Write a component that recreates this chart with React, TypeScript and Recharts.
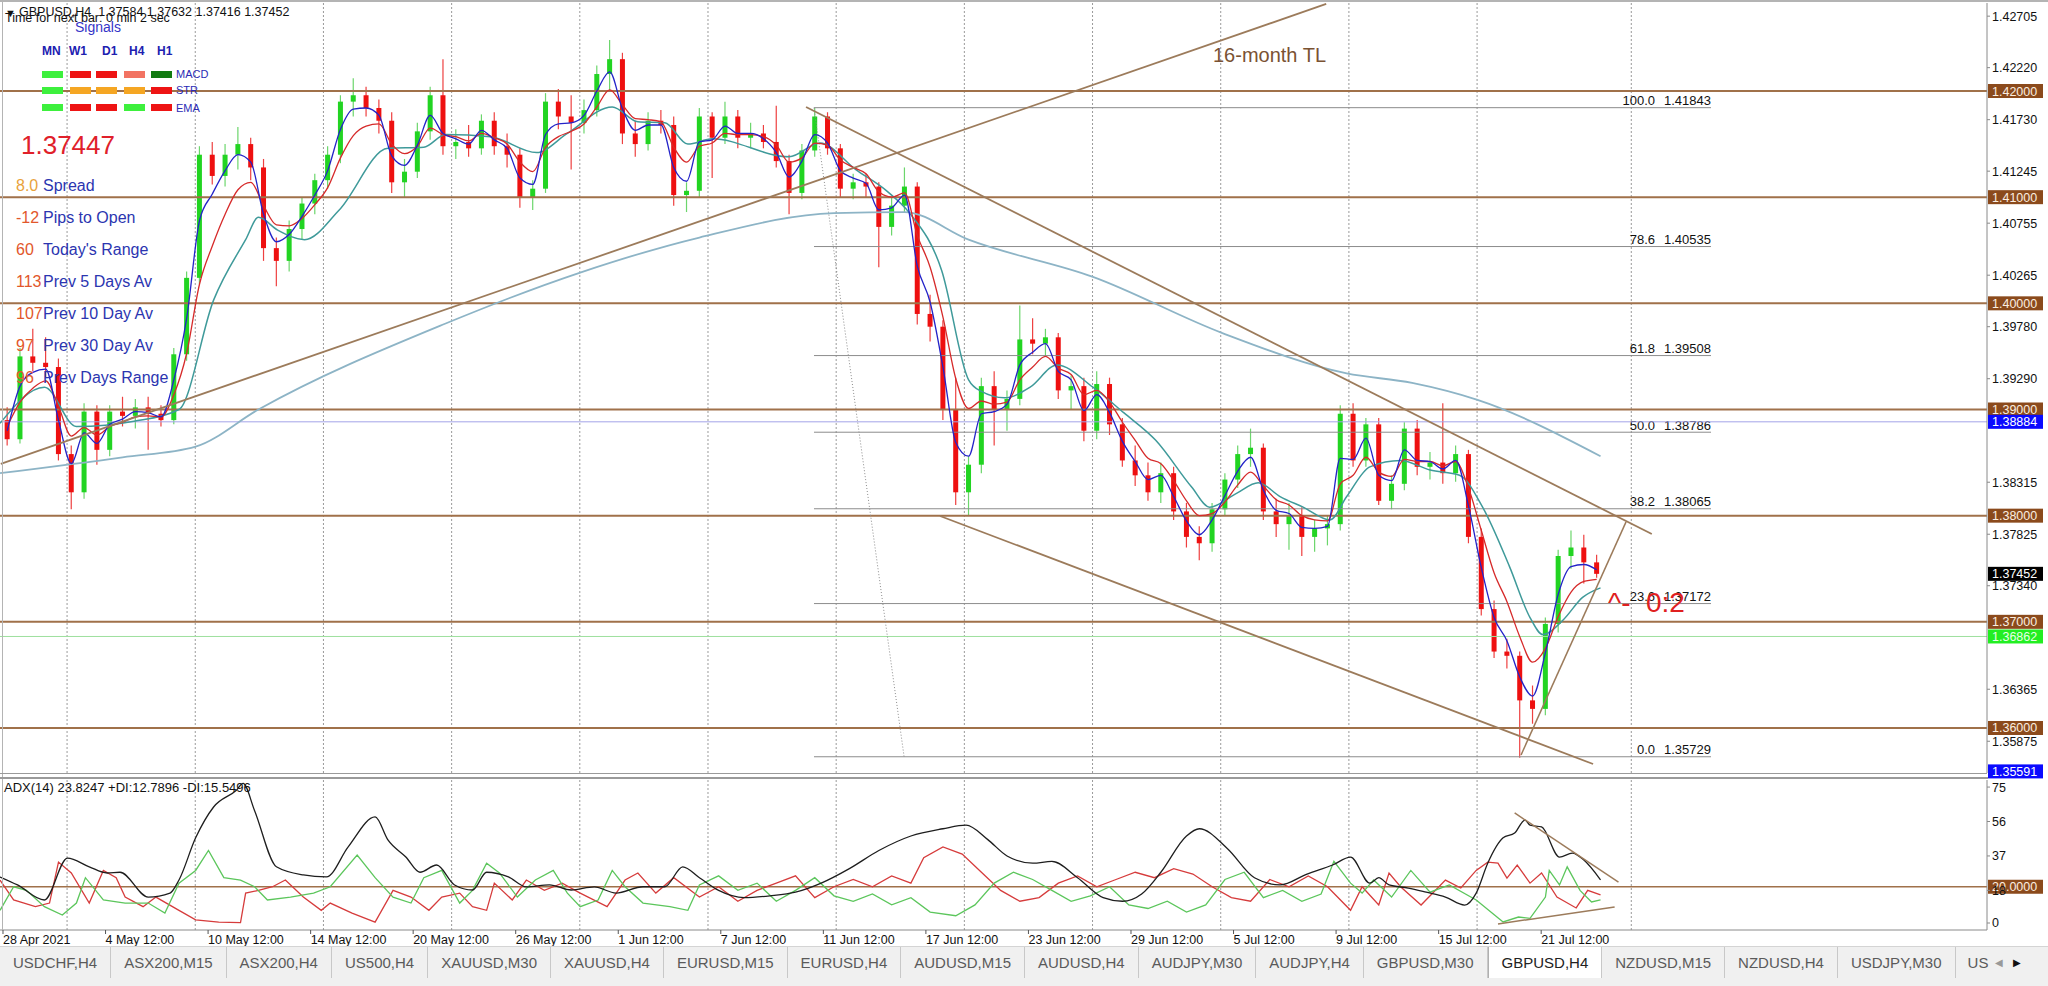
import React from 'react'
import { ComposedChart, Bar, Line, XAxis, YAxis, ReferenceLine } from 'recharts'

// GBPUSD H4 chart redrawn with 12h candles; index 1 = 28 Apr 2021 12:00, 125 = 23 Jul 12:00
const opens = [
  1.3890, 1.3872, 1.3950, 1.3944, 1.3940, 1.3858, 1.3822, 1.3898, 1.3862, 1.3898,
  1.3894, 1.3902, 1.3896, 1.3890, 1.3952, 1.4024, 1.4140, 1.4120, 1.4140, 1.4150,
  1.4128, 1.4052, 1.4040, 1.4070, 1.4094, 1.4116, 1.4140, 1.4190, 1.4196, 1.4184,
  1.4172, 1.4114, 1.4124, 1.4162, 1.4196, 1.4148, 1.4152, 1.4146, 1.4172, 1.4148,
  1.4140, 1.4100, 1.4108, 1.4190, 1.4176, 1.4170, 1.4182, 1.4216, 1.4230, 1.4160,
  1.4150, 1.4172, 1.4168, 1.4102, 1.4106, 1.4176, 1.4156, 1.4176, 1.4156, 1.4160,
  1.4152, 1.4134, 1.4104, 1.4144, 1.4176, 1.4146, 1.4108, 1.4114, 1.4110, 1.4072,
  1.4092, 1.4110, 1.3990, 1.3978, 1.3900, 1.3822, 1.3848, 1.3922, 1.3900, 1.3910,
  1.3966, 1.3962, 1.3968, 1.3918, 1.3922, 1.3880, 1.3924, 1.3886, 1.3852, 1.3838,
  1.3822, 1.3840, 1.3804, 1.3780, 1.3774, 1.3806, 1.3834, 1.3858, 1.3864, 1.3804,
  1.3792, 1.3800, 1.3780, 1.3788, 1.3792, 1.3896, 1.3852, 1.3886, 1.3814, 1.3830,
  1.3882, 1.3846, 1.3850, 1.3840, 1.3858, 1.3780, 1.3712, 1.3672, 1.3668, 1.3626,
  1.3618, 1.3698, 1.3762, 1.3770, 1.3756,
]
const highs = [
  1.3902, 1.3958, 1.3976, 1.3968, 1.3948, 1.3866, 1.3906, 1.3904, 1.3904, 1.3912,
  1.3910, 1.3912, 1.3904, 1.3958, 1.4030, 1.4148, 1.4152, 1.4150, 1.4166, 1.4156,
  1.4136, 1.4062, 1.4078, 1.4100, 1.4122, 1.4148, 1.4196, 1.4212, 1.4204, 1.4192,
  1.4180, 1.4136, 1.4170, 1.4204, 1.4230, 1.4164, 1.4168, 1.4178, 1.4180, 1.4160,
  1.4146, 1.4116, 1.4198, 1.4202, 1.4196, 1.4192, 1.4224, 1.4248, 1.4236, 1.4172,
  1.4180, 1.4182, 1.4176, 1.4114, 1.4184, 1.4180, 1.4190, 1.4182, 1.4170, 1.4168,
  1.4186, 1.4140, 1.4150, 1.4184, 1.4180, 1.4150, 1.4122, 1.4122, 1.4114, 1.4100,
  1.4128, 1.4114, 1.4008, 1.3984, 1.3930, 1.3856, 1.3930, 1.3936, 1.3918, 1.3998,
  1.3986, 1.3976, 1.3972, 1.3932, 1.3930, 1.3936, 1.3930, 1.3892, 1.3866, 1.3850,
  1.3850, 1.3846, 1.3812, 1.3790, 1.3812, 1.3840, 1.3866, 1.3882, 1.3868, 1.3816,
  1.3812, 1.3808, 1.3796, 1.3800, 1.3904, 1.3906, 1.3892, 1.3892, 1.3838, 1.3888,
  1.3890, 1.3860, 1.3906, 1.3866, 1.3862, 1.3788, 1.3720, 1.3684, 1.3672, 1.3640,
  1.3704, 1.3768, 1.3786, 1.3782, 1.37632,
]
const lows = [
  1.3866, 1.3868, 1.3936, 1.3930, 1.3852, 1.3806, 1.3816, 1.3848, 1.3856, 1.3884,
  1.3882, 1.3862, 1.3884, 1.3886, 1.3946, 1.4018, 1.4112, 1.4110, 1.4126, 1.4116,
  1.4040, 1.4016, 1.4030, 1.4060, 1.4084, 1.4108, 1.4132, 1.4176, 1.4176, 1.4160,
  1.4104, 1.4100, 1.4118, 1.4154, 1.4140, 1.4136, 1.4138, 1.4140, 1.4140, 1.4128,
  1.4090, 1.4088, 1.4104, 1.4164, 1.4126, 1.4160, 1.4176, 1.4200, 1.4150, 1.4138,
  1.4144, 1.4160, 1.4092, 1.4086, 1.4100, 1.4118, 1.4150, 1.4146, 1.4146, 1.4146,
  1.4128, 1.4084, 1.4098, 1.4138, 1.4140, 1.4100, 1.4098, 1.4100, 1.4034, 1.4064,
  1.4086, 1.3980, 1.3964, 1.3890, 1.3810, 1.3800, 1.3840, 1.3866, 1.3880, 1.3904,
  1.3952, 1.3950, 1.3910, 1.3900, 1.3870, 1.3872, 1.3876, 1.3846, 1.3828, 1.3814,
  1.3812, 1.3796, 1.3770, 1.3758, 1.3766, 1.3800, 1.3826, 1.3846, 1.3796, 1.3780,
  1.3768, 1.3762, 1.3766, 1.3772, 1.3786, 1.3846, 1.3846, 1.3810, 1.3806, 1.3824,
  1.3838, 1.3834, 1.3830, 1.3832, 1.3774, 1.3706, 1.3666, 1.3656, 1.3572, 1.3604,
  1.3612, 1.3690, 1.3750, 1.3736, 1.37416,
]
const closes = [
  1.3872, 1.3950, 1.3944, 1.3940, 1.3858, 1.3822, 1.3898, 1.3862, 1.3898, 1.3894,
  1.3902, 1.3896, 1.3890, 1.3952, 1.4024, 1.4140, 1.4120, 1.4140, 1.4150, 1.4128,
  1.4052, 1.4040, 1.4070, 1.4094, 1.4116, 1.4140, 1.4190, 1.4196, 1.4184, 1.4172,
  1.4114, 1.4124, 1.4162, 1.4196, 1.4148, 1.4152, 1.4146, 1.4172, 1.4148, 1.4140,
  1.4100, 1.4108, 1.4190, 1.4176, 1.4170, 1.4182, 1.4216, 1.4230, 1.4160, 1.4150,
  1.4172, 1.4168, 1.4102, 1.4106, 1.4176, 1.4156, 1.4176, 1.4156, 1.4160, 1.4152,
  1.4134, 1.4104, 1.4144, 1.4176, 1.4146, 1.4108, 1.4114, 1.4110, 1.4072, 1.4092,
  1.4110, 1.3990, 1.3978, 1.3900, 1.3822, 1.3848, 1.3922, 1.3900, 1.3910, 1.3966,
  1.3962, 1.3968, 1.3918, 1.3922, 1.3880, 1.3924, 1.3886, 1.3852, 1.3838, 1.3822,
  1.3840, 1.3804, 1.3780, 1.3774, 1.3806, 1.3834, 1.3858, 1.3864, 1.3804, 1.3792,
  1.3800, 1.3780, 1.3788, 1.3792, 1.3896, 1.3852, 1.3886, 1.3814, 1.3830, 1.3882,
  1.3846, 1.3850, 1.3840, 1.3858, 1.3780, 1.3712, 1.3672, 1.3668, 1.3626, 1.3618,
  1.3698, 1.3762, 1.3770, 1.3756, 1.37452,
]
// fast (blue) and slower (red) moving averages
const fastEma = [
  1.3880, 1.3922, 1.3935, 1.3938, 1.3890, 1.3849, 1.3878, 1.3868, 1.3886, 1.3891,
  1.3898, 1.3897, 1.3893, 1.3928, 1.3986, 1.4078, 1.4103, 1.4125, 1.4140, 1.4133,
  1.4084, 1.4058, 1.4065, 1.4082, 1.4102, 1.4125, 1.4164, 1.4183, 1.4184, 1.4177,
  1.4139, 1.4130, 1.4149, 1.4177, 1.4160, 1.4155, 1.4150, 1.4163, 1.4154, 1.4146,
  1.4118, 1.4112, 1.4159, 1.4169, 1.4170, 1.4177, 1.4200, 1.4218, 1.4183, 1.4163,
  1.4168, 1.4168, 1.4128, 1.4115, 1.4152, 1.4154, 1.4167, 1.4160, 1.4160, 1.4155,
  1.4142, 1.4119, 1.4134, 1.4159, 1.4151, 1.4125, 1.4118, 1.4113, 1.4088, 1.4090,
  1.4102, 1.4035, 1.4001, 1.3940, 1.3869, 1.3856, 1.3896, 1.3898, 1.3905, 1.3942,
  1.3954, 1.3962, 1.3936, 1.3928, 1.3899, 1.3914, 1.3897, 1.3870, 1.3851, 1.3834,
  1.3838, 1.3818, 1.3795, 1.3782, 1.3796, 1.3819, 1.3842, 1.3855, 1.3824, 1.3805,
  1.3802, 1.3789, 1.3788, 1.3790, 1.3854, 1.3853, 1.3873, 1.3838, 1.3833, 1.3862,
  1.3852, 1.3851, 1.3844, 1.3852, 1.3809, 1.3751, 1.3704, 1.3682, 1.3648, 1.3630,
  1.3671, 1.3726, 1.3752, 1.3754, 1.3749,
]
const slowEma = [
  1.3884, 1.3907, 1.3920, 1.3927, 1.3903, 1.3875, 1.3883, 1.3876, 1.3884, 1.3888,
  1.3893, 1.3894, 1.3893, 1.3914, 1.3953, 1.4018, 1.4054, 1.4084, 1.4107, 1.4114,
  1.4092, 1.4074, 1.4073, 1.4080, 1.4093, 1.4109, 1.4137, 1.4158, 1.4167, 1.4169,
  1.4150, 1.4141, 1.4148, 1.4165, 1.4159, 1.4157, 1.4153, 1.4160, 1.4156, 1.4150,
  1.4133, 1.4124, 1.4147, 1.4157, 1.4162, 1.4169, 1.4185, 1.4201, 1.4187, 1.4174,
  1.4173, 1.4171, 1.4147, 1.4133, 1.4148, 1.4151, 1.4160, 1.4159, 1.4159, 1.4157,
  1.4149, 1.4133, 1.4137, 1.4151, 1.4149, 1.4135, 1.4128, 1.4122, 1.4105, 1.4100,
  1.4104, 1.4064, 1.4034, 1.3987, 1.3929, 1.3901, 1.3908, 1.3905, 1.3907, 1.3928,
  1.3940, 1.3950, 1.3939, 1.3933, 1.3914, 1.3918, 1.3907, 1.3888, 1.3871, 1.3854,
  1.3849, 1.3833, 1.3814, 1.3800, 1.3802, 1.3813, 1.3829, 1.3841, 1.3828, 1.3815,
  1.3810, 1.3800, 1.3796, 1.3795, 1.3830, 1.3838, 1.3855, 1.3841, 1.3837, 1.3853,
  1.3851, 1.3851, 1.3847, 1.3851, 1.3826, 1.3786, 1.3746, 1.3719, 1.3686, 1.3662,
  1.3675, 1.3705, 1.3728, 1.3738, 1.3740,
]
// [bar index, value]
const midMa = [
  [0.44, 1.3887], [3.9, 1.3921], [6.4, 1.3884], [10.9, 1.3889], [14.4, 1.3900], [17.1, 1.4003],
  [19.6, 1.4060], [20.6, 1.4081], [22.1, 1.4069], [24.2, 1.4060], [26.9, 1.4088], [30.7, 1.4146],
  [33.5, 1.4147], [35.2, 1.4159], [38.7, 1.4157], [42.3, 1.4142], [44.7, 1.4160], [48.2, 1.4185],
  [50.2, 1.4171], [52.3, 1.4170], [54.1, 1.4150], [56, 1.4155], [62, 1.4138], [64.4, 1.4151],
  [67.2, 1.4126], [69.7, 1.4105], [71.4, 1.4085], [73.9, 1.4031], [76, 1.3928], [77, 1.3917],
  [78.8, 1.3911], [80.8, 1.3921], [82.9, 1.3942], [85.7, 1.3921], [88.1, 1.3897], [90.6, 1.3871],
  [93.4, 1.3827], [94.8, 1.3808], [96.9, 1.3821], [98.6, 1.3831], [100.3, 1.3818], [102.1, 1.3808],
  [104.2, 1.3796], [105.5, 1.3818], [107.3, 1.3846], [109.7, 1.3852], [112, 1.3843], [114.3, 1.3838],
  [116.1, 1.3808], [118.2, 1.3752], [119.8, 1.3704], [120.8, 1.3688], [122.4, 1.3702], [123.9, 1.3723],
  [125.3, 1.3732],
]
const longMa = [
  [0.44, 1.3840], [10, 1.3855], [15.7, 1.3865], [20.6, 1.3900], [35.2, 1.3981], [45.7, 1.4029],
  [55, 1.4062], [65.5, 1.4085], [71, 1.4086], [76, 1.4060], [85.7, 1.4025], [95.8, 1.3972],
  [105.5, 1.3934], [110.6, 1.3925], [115.7, 1.3909], [125.3, 1.3856],
]
const adx = [
  [0.44, 25.4], [1.8, 21], [3.9, 12.7], [5.7, 35.8], [7.4, 31], [8.8, 27.6], [9.8, 28], [12, 14.3],
  [13.7, 16.5], [14.4, 23.7], [15.7, 47], [17.1, 64], [18.9, 73.4], [19.4, 77], [20.3, 62], [22, 31],
  [24.1, 26.5], [25.9, 25.4], [27.6, 42], [29.7, 58.5], [30.7, 45.8], [32.1, 36.4], [33.2, 28],
  [34.5, 32], [35.9, 21], [37.3, 18.2], [38.4, 28], [40.1, 25.4], [41.5, 19.9], [43.3, 21], [45, 18.2],
  [46.8, 19.9], [48.5, 16.5], [50.6, 20], [52.3, 20], [53.7, 31], [55, 25], [56.5, 18], [58.5, 14],
  [60.5, 15], [62.5, 17], [64.5, 22], [66.7, 30], [69, 40], [71.5, 48], [74, 52], [75.8, 54],
  [77.5, 46], [79, 37], [81, 33], [82.5, 34], [84.5, 25], [86.5, 14], [88, 12], [89.5, 16], [91, 28],
  [93, 48], [94, 52], [96.2, 41], [98.3, 25], [100.3, 21], [102.4, 27], [104.4, 32], [105.8, 36.4],
  [107.3, 22], [108, 25], [108.8, 21], [110.3, 19.3], [111.7, 17], [113.2, 14.3], [114.7, 9.9],
  [115.6, 16.5], [116.5, 33], [117.7, 47], [118.6, 49.6], [119.4, 56.8], [119.8, 54], [120.7, 53],
  [122.1, 36.4], [123.1, 38.6], [124, 34.7], [125.3, 23.8],
]
const plusDi = [
  [0.44, 7], [1.5, 20], [2.5, 18], [3.9, 9], [5.3, 4.4], [6.4, 11], [7.1, 25], [8.5, 12.7], [10.2, 11],
  [12, 11], [13.3, 5.5], [14.4, 22], [15.7, 29], [16.7, 40], [17.9, 25], [19.2, 23.7], [20.3, 20],
  [21.3, 12.7], [23.1, 14.3], [24.9, 16.5], [26.2, 20], [28.3, 37.5], [29.7, 25], [31.1, 14.3],
  [32.5, 11], [33.5, 25], [34.9, 29], [36.3, 11], [37.3, 18], [38.4, 33], [39.4, 27.6], [40.8, 14.3],
  [42.2, 23.7], [43.6, 29], [44.7, 16.5], [45.7, 9], [47.1, 12.7], [48.2, 29], [49.2, 20], [50.6, 11],
  [52.7, 9], [54.1, 7], [55, 21], [56.5, 26], [58, 18], [59.5, 22], [61, 12], [62.5, 18], [64, 25],
  [65.5, 15], [67, 12], [68.5, 16], [70, 10], [71.5, 14], [73, 6], [75, 4], [76.5, 10], [78, 22],
  [79.5, 28], [81, 24], [82.5, 18], [84, 12], [85.5, 15], [87, 20], [88.5, 10], [90, 8], [91.5, 12],
  [93, 6], [94.5, 10], [96, 24], [97.5, 28], [99, 14], [100.5, 18], [102, 12], [103.5, 16], [104.5, 34],
  [105.8, 22], [106.7, 16.5], [107.6, 23.7], [109, 14.3], [110.5, 29], [112, 17], [113.5, 21],
  [115.6, 12.7], [117.7, 0.6], [118.9, 3.3], [119.8, 2.6], [121, 14.3], [121.3, 29], [122.1, 21],
  [122.7, 31], [123.7, 18], [124.6, 11.6], [125.3, 12.8],
]
const minusDi = [
  [0.44, 23.7], [1.5, 12.7], [3.2, 9], [4.3, 11], [5, 33.6], [6, 27.6], [7.4, 11], [8.5, 29], [9.5, 25],
  [10.2, 14.3], [11.6, 9], [12.6, 14.3], [14.4, 7], [15.7, 1.7], [17.5, 0.5], [19.2, 0.2], [19.6, 16.5],
  [20.6, 18], [21.7, 20], [22.7, 23.7], [24.1, 14.3], [25.5, 7], [26.2, 11], [27.9, 5.5], [29.7, 0.5],
  [31.1, 18], [32.5, 14.3], [33.9, 7], [34.9, 14.3], [36.3, 16.5], [37.3, 9], [38.4, 7], [39, 22],
  [40.4, 12.7], [41.5, 23.7], [42.9, 18], [44.3, 22], [45.7, 16.5], [47.8, 9], [49.2, 23.7],
  [50.2, 27.6], [51.6, 16.5], [53, 25], [55, 14.3], [56.5, 20], [58, 12], [59.5, 18], [61, 22],
  [62.5, 26], [64, 14], [65.5, 20], [67, 24], [68.5, 20], [70, 26], [71.5, 22], [72.5, 36], [74, 42],
  [75.5, 38], [77, 28], [78.5, 18], [80, 12], [81.5, 14], [83, 22], [84.5, 26], [86, 20], [87.5, 24],
  [89, 28], [90.5, 25], [92, 30], [93.5, 27], [95, 20], [96.5, 14], [98, 12], [99.5, 24], [101, 20],
  [102.5, 26], [104, 20], [105.8, 7], [106.7, 20], [108, 9.9], [108.8, 27.6], [109.7, 20], [111.3, 9.9],
  [113.2, 23.7], [114.4, 19.3], [115.6, 29], [116.5, 33.6], [117.3, 33], [118, 24.8], [118.8, 32],
  [119.8, 22], [120.7, 27.6], [121.9, 14.3], [123.4, 8.3], [124.3, 18], [125.3, 15.5],
]

const roundLevels = [1.42, 1.41, 1.4, 1.39, 1.38, 1.37, 1.36]
const priceTicks = [1.42705, 1.4222, 1.4173, 1.41245, 1.40755, 1.40265, 1.3978, 1.3929, 1.38315, 1.37825, 1.3734, 1.36365, 1.35875]
const fibLevels = [1.41843, 1.40535, 1.39508, 1.38786, 1.38065, 1.37172, 1.35729]
const fibNames = ['100.0', '78.6', '61.8', '50.0', '38.2', '23.6', '0.0']
const weekLines = [5.67, 15.67, 25.67, 35.67, 45.67, 55.67, 65.67, 75.67, 85.67, 95.67, 105.67, 115.67, 127.7]
const dateTicks = [0.67, 8.67, 16.67, 24.67, 32.67, 40.67, 48.67, 56.67, 64.67, 72.67, 80.67, 88.67, 96.67, 104.67, 112.67, 120.67]
const dateLabels = ['28 Apr 2021', '4 May 12:00', '10 May 12:00', '14 May 12:00', '20 May 12:00', '26 May 12:00', '1 Jun 12:00', '7 Jun 12:00', '11 Jun 12:00', '17 Jun 12:00', '23 Jun 12:00', '29 Jun 12:00', '5 Jul 12:00', '9 Jul 12:00', '15 Jul 12:00', '21 Jul 12:00']
const adxTicks = [0, 18, 37, 56, 75]
const tabs = ['USDCHF,H4', 'ASX200,M15', 'ASX200,H4', 'US500,H4', 'XAUUSD,M30', 'XAUUSD,H4', 'EURUSD,M15', 'EURUSD,H4', 'AUDUSD,M15', 'AUDUSD,H4', 'AUDJPY,M30', 'AUDJPY,H4', 'GBPUSD,M30', 'GBPUSD,H4', 'NZDUSD,M15', 'NZDUSD,H4', 'USDJPY,M30']
const statValues = ['8.0', '-12', '60', '113', '107', '97', '96']
const statLabels = ['Spread', 'Pips to Open', "Today's Range", 'Prev 5 Days Av', 'Prev 10 Day Av', 'Prev 30 Day Av', 'Prev Days Range']
const signalCols = ['MN', 'W1', 'D1', 'H4', 'H1']
const signalRows = ['MACD', 'STR', 'EMA']
const signalStates = [
  ['up', 'down', 'down', 'weak', 'strong'],
  ['up', 'flat', 'flat', 'flat', 'down'],
  ['up', 'down', 'down', 'up', 'down'],
]

const FONT = '"Liberation Sans", Arial, sans-serif'
const X0 = 0.437
const X1 = 155.45
const P0 = 1.35576
const P1 = 1.42829
const BROWN = '#a0714a'
const TREND = '#9c7b5b'
const BODY_W = 5
const stateColor: Record<string, string> = { up: '#3df03d', down: '#ee1414', weak: '#f27362', strong: '#117a11', flat: '#f5a623' }

const rows = closes.map((c, k) => ({ i: k + 1, o: opens[k], h: highs[k], l: lows[k], c, fast: fastEma[k], slow: slowEma[k] }))
const pts = (a: number[][]) => a.map(([i, v]) => ({ i, v }))

function Candle(props: any) {
  const { x, y, width, height, payload } = props
  if (!payload) return null
  const top = Math.min(y, y + height)
  const bot = Math.max(y, y + height)
  const span = payload.h - payload.l || 1e-9
  const py = (p: number) => top + ((payload.h - p) / span) * (bot - top)
  const up = payload.c >= payload.o
  const cx = x + width / 2
  const yo = py(payload.o)
  const yc = py(payload.c)
  return (
    <g>
      <line x1={cx} x2={cx} y1={top} y2={bot} stroke={up ? '#6cd66c' : '#ee4040'} strokeWidth={1.2} />
      <rect x={cx - BODY_W / 2} y={Math.min(yo, yc)} width={BODY_W} height={Math.max(2, Math.abs(yo - yc))} fill={up ? '#22d422' : '#ee1010'} />
    </g>
  )
}

function Tag(props: any) {
  const { viewBox, text, bg, fg } = props
  if (!viewBox) return null
  const x = viewBox.x + viewBox.width + 1
  const y = viewBox.y
  return (
    <g>
      <rect x={x} y={y - 7} width={55} height={14} fill={bg} />
      <text x={x + 4} y={y + 4.5} fontSize={12.5} fontFamily={FONT} fill={fg}>{text}</text>
    </g>
  )
}

function FibLabel(props: any) {
  const { viewBox, name, price } = props
  if (!viewBox) return null
  const end = viewBox.x + viewBox.width
  const y = viewBox.y - 2.5
  return (
    <g fontSize={13} fontFamily={FONT} fill="#111">
      <text x={end - 56} y={y} textAnchor="end">{name}</text>
      <text x={end} y={y} textAnchor="end">{price.toFixed(5)}</text>
    </g>
  )
}

function DateTick(props: any) {
  const { x, y, payload } = props
  const k = dateTicks.findIndex((t) => Math.abs(t - payload.value) < 0.01)
  return <text x={x} y={y + 8} fontSize={12.5} fontFamily={FONT} fill="#111">{dateLabels[k]}</text>
}

function T({ x, y, size, color, weight, children }: any) {
  return (
    <div style={{ position: 'absolute', left: x, top: y - size * 0.59, fontSize: size, lineHeight: `${size * 1.2}px`, color, fontWeight: weight || 'normal', whiteSpace: 'pre' }}>
      {children}
    </div>
  )
}

export default function App() {
  const axisTick = { fontSize: 12.5, fill: '#111', fontFamily: FONT }
  return (
    <div style={{ position: 'absolute', left: 0, top: 0, width: 2048, height: 986, background: '#fff', overflow: 'hidden', fontFamily: FONT }}>
      <div style={{ position: 'absolute', left: 0, top: 0 }}>
        <ComposedChart width={2048} height={784} data={rows} margin={{ top: 3, right: 0, bottom: 11, left: 0 }}>
          <XAxis type="number" dataKey="i" domain={[X0, X1]} allowDataOverflow hide />
          <YAxis orientation="right" domain={[P0, P1]} allowDataOverflow ticks={priceTicks} interval={0} width={61}
            tickFormatter={(v: number) => v.toFixed(5)} tick={axisTick} tickSize={3} tickMargin={2}
            axisLine={{ stroke: '#8a8a8a' }} tickLine={{ stroke: '#8a8a8a' }} />
          {weekLines.map((w) => <ReferenceLine key={'w' + w} x={w} stroke="#9a9a9a" strokeDasharray="2 2" />)}
          {fibLevels.map((f, k) => (
            <ReferenceLine key={'f' + f} segment={[{ x: 63.94, y: f }, { x: 133.92, y: f }]} stroke="#8c8c8c" strokeWidth={1}
              label={<FibLabel name={fibNames[k]} price={f} />} />
          ))}
          <ReferenceLine y={1.38884} stroke="#a4a4e8" strokeWidth={1} />
          <ReferenceLine y={1.36862} stroke="#9ee09e" strokeWidth={1} />
          {roundLevels.map((r) => (
            <ReferenceLine key={'r' + r} y={r} stroke={BROWN} strokeWidth={2} label={<Tag text={r.toFixed(5)} bg="#8b4a1c" fg="#fbeee0" />} />
          ))}
          <ReferenceLine y={1.38884} stroke="none" label={<Tag text="1.38884" bg="#0a0aff" fg="#ffffff" />} />
          <ReferenceLine y={1.37452} stroke="none" label={<Tag text="1.37452" bg="#000000" fg="#ffffff" />} />
          <ReferenceLine y={1.36862} stroke="none" label={<Tag text="1.36862" bg="#22ee22" fg="#e8ffe8" />} />
          <ReferenceLine y={1.35591} stroke="none" label={<Tag text="1.35591" bg="#0a0aff" fg="#ffffff" />} />
          <ReferenceLine segment={[{ x: 63.94, y: 1.41843 }, { x: 70.97, y: 1.35729 }]} stroke="#8c8c8c" strokeDasharray="1 2" />
          <Bar dataKey={(d: any) => [d.l, d.h]} barSize={7} shape={(p: any) => <Candle {...p} />} isAnimationActive={false} />
          <Line data={pts(longMa)} dataKey="v" type="monotone" stroke="#8db4c6" strokeWidth={1.8} dot={false} isAnimationActive={false} />
          <Line data={pts(midMa)} dataKey="v" type="monotone" stroke="#3f9a9a" strokeWidth={1.5} dot={false} isAnimationActive={false} />
          <Line dataKey="slow" type="monotone" stroke="#d62a2a" strokeWidth={1.3} dot={false} isAnimationActive={false} />
          <Line dataKey="fast" type="monotone" stroke="#2323c8" strokeWidth={1.3} dot={false} isAnimationActive={false} />
          <ReferenceLine segment={[{ x: 0.5, y: 1.38488 }, { x: 103.9, y: 1.4282 }]} stroke={TREND} strokeWidth={1.8} />
          <ReferenceLine segment={[{ x: 63.32, y: 1.41849 }, { x: 129.3, y: 1.37827 }]} stroke={TREND} strokeWidth={1.8} />
          <ReferenceLine segment={[{ x: 73.77, y: 1.37997 }, { x: 124.72, y: 1.35661 }]} stroke={TREND} strokeWidth={1.8} />
          <ReferenceLine segment={[{ x: 119.1, y: 1.35746 }, { x: 127.29, y: 1.37941 }]} stroke={TREND} strokeWidth={1.5} />
        </ComposedChart>
      </div>

      <div style={{ position: 'absolute', left: 0, top: 778 }}>
        <ComposedChart width={2048} height={176} margin={{ top: 2, right: 0, bottom: 0, left: 0 }}>
          <XAxis type="number" dataKey="i" domain={[X0, X1]} allowDataOverflow ticks={dateTicks} interval={0} height={24}
            tick={<DateTick />} tickSize={4} tickMargin={2} axisLine={{ stroke: '#8a8a8a' }} tickLine={{ stroke: '#555' }} />
          <YAxis orientation="right" domain={[-3.86, 78.9]} allowDataOverflow ticks={adxTicks} interval={0} width={61}
            tick={axisTick} tickSize={3} tickMargin={2} axisLine={{ stroke: '#8a8a8a' }} tickLine={{ stroke: '#8a8a8a' }} />
          {weekLines.map((w) => <ReferenceLine key={'aw' + w} x={w} stroke="#9a9a9a" strokeDasharray="2 2" />)}
          <ReferenceLine y={20} stroke={BROWN} strokeWidth={1.5} label={<Tag text="20.0000" bg="#8b4a1c" fg="#fbeee0" />} />
          <Line data={pts(minusDi)} dataKey="v" type="linear" stroke="#d63c3c" strokeWidth={1.3} dot={false} isAnimationActive={false} />
          <Line data={pts(plusDi)} dataKey="v" type="linear" stroke="#5cc65c" strokeWidth={1.3} dot={false} isAnimationActive={false} />
          <Line data={pts(adx)} dataKey="v" type="monotone" stroke="#1e1e1e" strokeWidth={1.3} dot={false} isAnimationActive={false} />
          <ReferenceLine segment={[{ x: 118.6, y: 60.7 }, { x: 126.7, y: 22.6 }]} stroke={TREND} strokeWidth={1.5} />
          <ReferenceLine segment={[{ x: 117.3, y: -0.5 }, { x: 126.4, y: 8.8 }]} stroke={TREND} strokeWidth={1.5} />
        </ComposedChart>
      </div>

      {/* window frame and panel separators */}
      <div style={{ position: 'absolute', left: 0, top: 0, width: 2048, height: 2, background: '#b4b4b4' }} />
      <div style={{ position: 'absolute', left: 2, top: 0, width: 1, height: 930, background: '#b4b4b4' }} />
      <div style={{ position: 'absolute', left: 0, top: 773, width: 1987, height: 1, background: '#9a9a9a' }} />
      <div style={{ position: 'absolute', left: 0, top: 777, width: 1988, height: 2, background: '#9a9a9a' }} />

      {/* info panel */}
      <T x={5} y={13} size={11} color="#111">▼</T>
      <T x={19} y={12} size={12.5} color="#111">{'GBPUSD,H4  1.37584 1.37632 1.37416 1.37452'}</T>
      <T x={5} y={18} size={12.5} color="#111">Time for next bar: 0 min 2 sec</T>
      <T x={75} y={27} size={14} color="#3535c8">Signals</T>
      {signalCols.map((c, k) => (
        <T key={c} x={[42, 69, 102, 129, 157][k]} y={51} size={12} color="#2020b0" weight="bold">{c}</T>
      ))}
      {signalRows.map((r, ri) => (
        <React.Fragment key={r}>
          {signalStates[ri].map((s, ci) => (
            <div key={ci} style={{ position: 'absolute', left: [42, 70, 96, 124, 151][ci], top: [71, 87, 104][ri], width: 21, height: 7, background: stateColor[s] }} />
          ))}
          <T x={176} y={[74, 90, 108][ri]} size={11} color="#2b2bb5">{r}</T>
        </React.Fragment>
      ))}
      <T x={21} y={145} size={26} color="#e0202a">1.37447</T>
      {statValues.map((v, k) => (
        <React.Fragment key={k}>
          <T x={16} y={185 + k * 32} size={16} color={k === 0 ? '#e8a23c' : '#e2572b'}>{v}</T>
          <T x={43} y={185 + k * 32} size={16} color="#2b35b0">{statLabels[k]}</T>
        </React.Fragment>
      ))}
      <T x={1213} y={55} size={20} color="#7a5232">16-month TL</T>
      <T x={1608} y={603} size={28} color="#e02020">{'^-\u00a0\u00a00:2'}</T>
      <T x={4} y={788} size={13} color="#111">ADX(14) 23.8247 +DI:12.7896 -DI:15.5496</T>

      {/* symbol tabs */}
      <div style={{ position: 'absolute', left: 0, top: 946, width: 2048, height: 40, background: '#f0f0f0', borderTop: '1px solid #d4d4d4' }}>
        <div style={{ display: 'flex', height: 31 }}>
          {tabs.map((t) => {
            const active = t === 'GBPUSD,H4'
            return (
              <div key={t} style={{ padding: '0 13px', lineHeight: '31px', fontSize: 15, color: active ? '#222' : '#5a5a5a', background: active ? '#fff' : '#f0f0f0', borderRight: '1px solid #c8c8c8', borderLeft: active ? '1px solid #b0b0b0' : 'none', whiteSpace: 'nowrap' }}>
                {t}
              </div>
            )
          })}
          <div style={{ padding: '0 2px 0 12px', lineHeight: '31px', fontSize: 15, color: '#5a5a5a', whiteSpace: 'nowrap' }}>US</div>
          <div style={{ lineHeight: '31px', fontSize: 10, color: '#999', padding: '0 5px' }}>◀</div>
          <div style={{ lineHeight: '31px', fontSize: 10, color: '#111', padding: '0 5px' }}>▶</div>
        </div>
      </div>
    </div>
  )
}
